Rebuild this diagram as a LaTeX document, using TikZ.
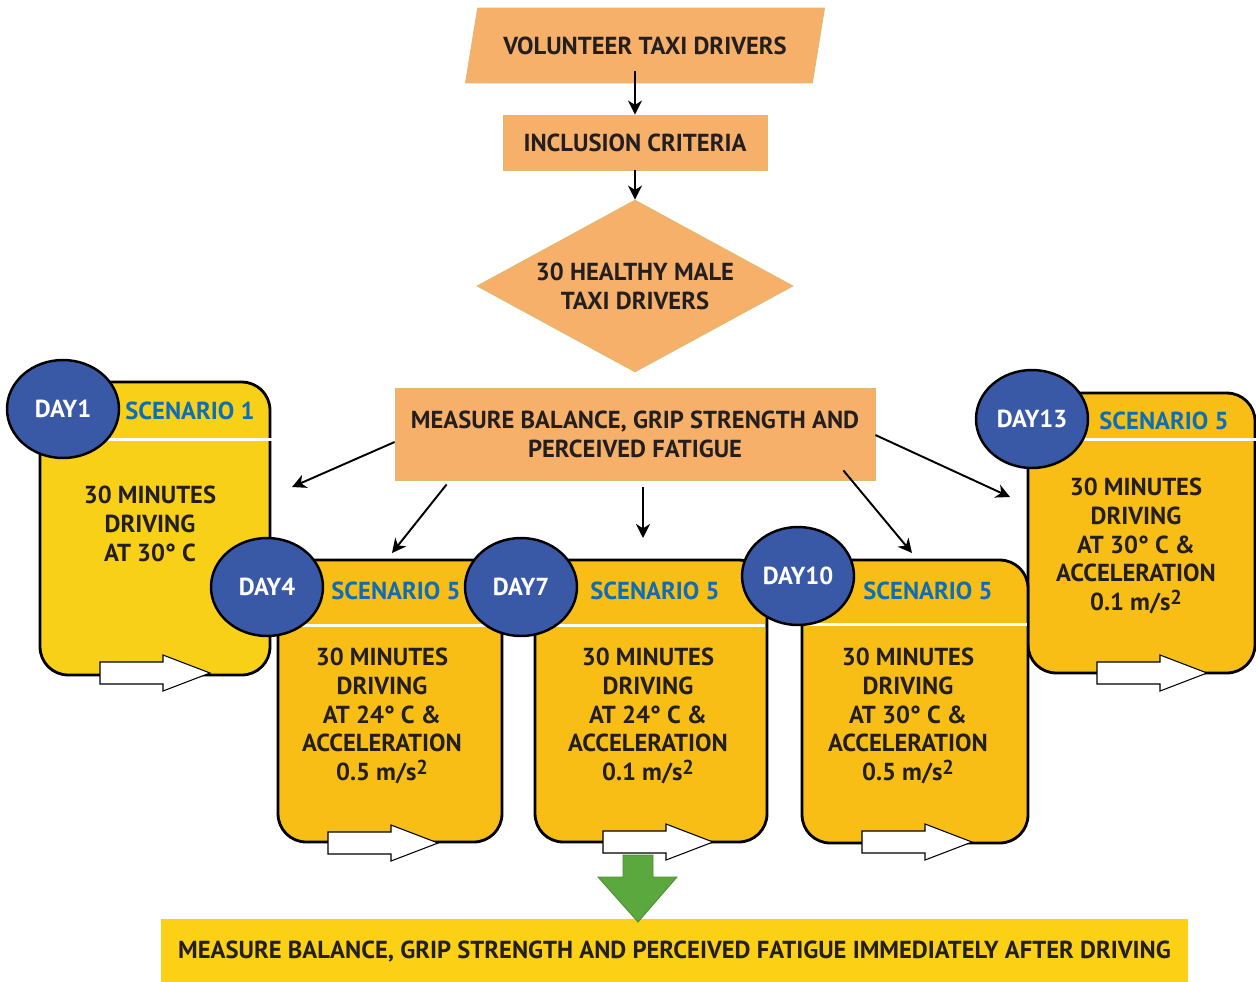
\documentclass[tikz,border=0pt]{standalone}
\usepackage{fontspec}
\setmainfont{PT Sans}
\usepackage{tikz}
\usetikzlibrary{positioning,arrows.meta,shapes.geometric,calc}

\definecolor{peach}{RGB}{246,176,106}
\definecolor{peachline}{RGB}{222,186,112}
\definecolor{lemon}{RGB}{249,208,24}
\definecolor{amber}{RGB}{249,190,22}
\definecolor{barfill}{RGB}{251,208,21}
\definecolor{dayblue}{RGB}{57,88,166}
\definecolor{scenblue}{RGB}{13,110,179}
\definecolor{ink}{RGB}{35,31,32}
\definecolor{leaf}{RGB}{90,168,62}

\newcommand{\sqtwo}{\raisebox{3.6pt}{\fontsize{11.5}{11.5}\selectfont 2}}

\begin{document}
\begin{tikzpicture}[x=0.02cm, y=-0.02cm,
  every node/.style={font=\bfseries\fontsize{14}{16.4}\selectfont, text=ink},
  flow/.style={fill=peach, draw=peachline, line width=0.5pt, align=center, inner sep=1pt},
  daybox/.style={draw=black, line width=1.6pt, rounded corners=16pt, inner sep=0pt},
  dot/.style={ellipse, draw=black, line width=1.4pt, fill=dayblue, minimum width=2.24cm,
              minimum height=1.96cm, text=white, inner sep=0pt},
  scen/.style={text=scenblue},
  body/.style={align=center},
  sep/.style={white, line width=1.7pt},
  arr/.style={-{Stealth[length=8pt, width=8pt, inset=2.5pt]}, line width=1.1pt},
  ghost/.style={draw=black, fill=white, line width=0.6pt, line join=miter},
]
\useasboundingbox (0,0) rectangle (1256,981);

% upper chain
\node[flow, trapezium, trapezium left angle=64, trapezium right angle=116,
      trapezium stretches=true, minimum width=7.2cm, minimum height=1.5cm] (vol) at (645,45.5)
  {VOLUNTEER TAXI DRIVERS};
\node[flow, minimum width=5.28cm, minimum height=1.1cm] (incl) at (635,142.5) {INCLUSION CRITERIA};
\node[flow, diamond, aspect=1.84, minimum width=6.32cm, minimum height=3.44cm] (crit) at (635,286)
  {30 HEALTHY MALE\\TAXI DRIVERS};
\node[flow, minimum width=9.6cm, minimum height=1.84cm] (meas) at (635,434)
  {MEASURE BALANCE, GRIP STRENGTH AND\\PERCEIVED FATIGUE};

\draw[arr] ([yshift=7pt]vol.south -| incl.north) -- (incl.north);
\draw[arr] (incl.south) -- (crit.north);

% day boxes
\node[daybox, fill=lemon, minimum width=4.6cm, minimum height=5.86cm] (box1) at (155,528.5) {};
\node[daybox, fill=amber, minimum width=4.54cm, minimum height=5.6cm] (box13) at (1141.5,533) {};
\node[daybox, fill=amber, minimum width=4.48cm, minimum height=5.64cm] (box4) at (390,701) {};
\node[daybox, fill=amber, minimum width=4.64cm, minimum height=5.64cm] (box7) at (651,701) {};
\node[daybox, fill=amber, minimum width=4.52cm, minimum height=5.66cm] (box10) at (915,701.5) {};

\foreach \ya/\xa/\xb in {439/63/272, 625/267/501, 625/521/765, 624/798/1027, 439/1032/1256}
  {\draw[sep] (\xa,\ya) -- (\xb,\ya);}

% green arrow to the last measurement
\node[fill=barfill, minimum width=20.54cm, minimum height=1.32cm, inner sep=0pt] (after) at (674.5,952)
  {MEASURE BALANCE, GRIP STRENGTH AND PERCEIVED FATIGUE IMMEDIATELY AFTER DRIVING};
\draw[fill=leaf, draw=leaf!85!black, line width=0.5pt]
  (623,855) -- (653,855) -- (653,877) -- (677,877) -- (638,922) -- (598,877) -- (623,877) -- cycle;

\foreach \tx/\ty in {210/673, 438/843, 713/842, 972/842, 1207/673}
  {\draw[ghost] (\tx,\ty) -- ++(-47,-18) -- ++(0,7) -- ++(-63,0) -- ++(0,22) -- ++(63,0) -- ++(0,7) -- cycle;}

\node[scen] (s1) at (190,411) {SCENARIO 1};
\node[scen] (s4) at (396,591) {SCENARIO 5};
\node[scen] (s7) at (655,591) {SCENARIO 5};
\node[scen] (s10) at (928,591) {SCENARIO 5};
\node[scen] (s13) at (1164,421) {SCENARIO 5};

\node[body] (b1) at (150,524) {30 MINUTES\\DRIVING\\AT 30° C};
\node[body] (b4) at (382,716) {30 MINUTES\\DRIVING\\AT 24° C \&\\ACCELERATION\\0.5 m/s\sqtwo};
\node[body] (b7) at (648,716) {30 MINUTES\\DRIVING\\AT 24° C \&\\ACCELERATION\\0.1 m/s\sqtwo};
\node[body] (b10) at (908,716) {30 MINUTES\\DRIVING\\AT 30° C \&\\ACCELERATION\\0.5 m/s\sqtwo};
\node[body] (b13) at (1136,546) {30 MINUTES\\DRIVING\\AT 30° C \&\\ACCELERATION\\0.1 m/s\sqtwo};

\node[dot] (d1) at (63,409) {DAY1};
\node[dot] (d4) at (267,587) {DAY4};
\node[dot] (d7) at (521,587) {DAY7};
\node[dot] (d10) at (798,576) {DAY10};
\node[dot] (d13) at (1032,419) {DAY13};

% arrows from the first measurement
\coordinate (t1) at (292,487);
\coordinate (t4) at (392,553);
\coordinate (t7) at (643,538);
\coordinate (t10) at (912,553);
\coordinate (t13) at (1010,497);
\draw[arr] ($(meas.west)+(0,8)$) -- (t1);
\draw[arr] ($(meas.south west)+(52,4)$) -- (t4);
\draw[arr] ($(meas.south)+(8,7)$) -- (t7);
\draw[arr] ($(meas.south east)+(-32,-10)$) -- (t10);
\draw[arr] ($(meas.east)+(0,1)$) -- (t13);
\end{tikzpicture}
\end{document}
